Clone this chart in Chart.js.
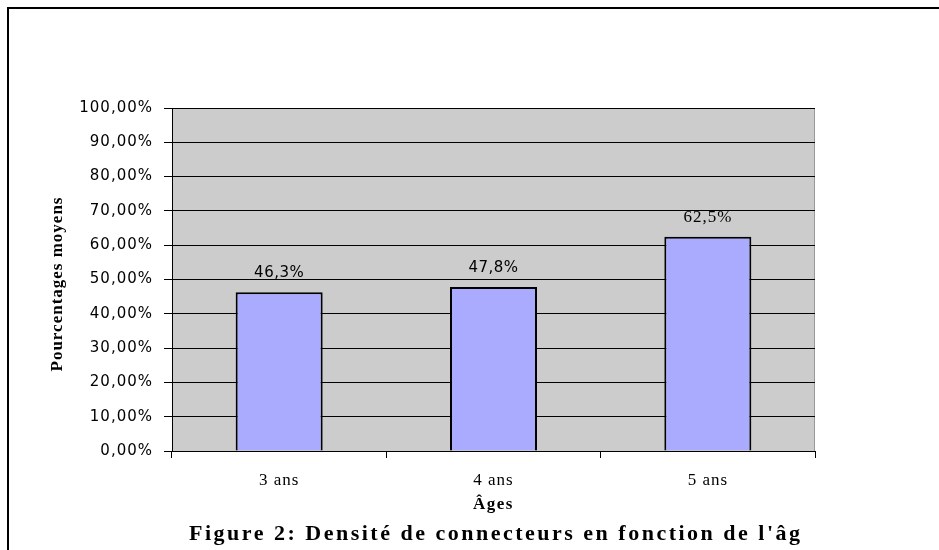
<!DOCTYPE html>
<html>
<head>
<meta charset="utf-8">
<script src="https://cdn.jsdelivr.net/npm/chart.js@4.4.1/dist/chart.umd.min.js"></script>
<style>
  html, body { margin: 0; padding: 0; background: #fff; }
  canvas { display: block; }
</style>
</head>
<body>
<canvas id="chart" width="939" height="550"></canvas>
<script>
// data
const ages = ["3 ans", "4 ans", "5 ans"];
const moyennes = [46.3, 47.8, 62.5];
const etiquettes = ["46,3%", "47,8%", "62,5%"];
const yTickLabels = ["0,00%", "10,00%", "20,00%", "30,00%", "40,00%", "50,00%",
                     "60,00%", "70,00%", "80,00%", "90,00%", "100,00%"];
const yTitle = "Pourcentages moyens";
const xTitle = "Âges";
const caption = "Figure 2: Densité de connecteurs en fonction de l'âge";

const serif = "'Liberation Serif', 'Times New Roman', serif";
const sans = "'DejaVu Sans', Verdana, sans-serif";

const frame = {
    id: "frame",
    beforeDraw(chart) {
        const { ctx, chartArea: a } = chart;
        ctx.save();
        ctx.fillStyle = "#fff";
        ctx.fillRect(0, 0, chart.width, chart.height);
        ctx.fillStyle = "#cccccc";
        ctx.fillRect(a.left, a.top, a.right - a.left, a.bottom - a.top);
        ctx.strokeStyle = "#999";
        ctx.lineWidth = 1;
        ctx.beginPath();
        ctx.moveTo(a.right - 0.5, a.top);
        ctx.lineTo(a.right - 0.5, a.bottom);
        ctx.stroke();
        // outer frame, open on the right and bottom
        ctx.strokeStyle = "#000";
        ctx.lineWidth = 2;
        ctx.strokeRect(8, 8, chart.width + 20, chart.height + 20);
        ctx.restore();
        ctx.letterSpacing = "1px";
    },
    afterDatasetsDraw(chart) {
        const { ctx } = chart;
        const bars = chart.getDatasetMeta(0).data;
        ctx.save();
        ctx.fillStyle = "#000";
        ctx.textAlign = "center";
        ctx.textBaseline = "alphabetic";
        bars.forEach((bar, i) => {
            // the last label is rendered with a serif face in the original
            if (i === bars.length - 1) {
                ctx.font = "17px " + serif;
                ctx.letterSpacing = "1px";
            } else {
                ctx.font = "15px " + sans;
                ctx.letterSpacing = "0.5px";
            }
            ctx.fillText(etiquettes[i], bar.x, bar.y - 15);
        });
        ctx.restore();
    },
    afterDraw(chart) {
        const { ctx, chartArea: a } = chart;
        ctx.save();
        ctx.fillStyle = "#000";

        ctx.font = "bold 17px " + serif;
        ctx.letterSpacing = "1px";
        ctx.textAlign = "center";
        ctx.textBaseline = "middle";
        ctx.save();
        ctx.translate(57.5, 284);
        ctx.rotate(-Math.PI / 2);
        ctx.fillText(yTitle, 0, 0);
        ctx.restore();

        ctx.letterSpacing = "1.5px";
        ctx.textBaseline = "alphabetic";
        ctx.fillText(xTitle, (a.left + a.right) / 2, 509);

        ctx.beginPath();
        ctx.rect(0, 0, 800, chart.height);
        ctx.clip();
        ctx.font = "bold 22px " + serif;
        ctx.letterSpacing = "2.5px";
        ctx.textAlign = "left";
        ctx.fillText(caption, 189, 540);
        ctx.restore();
        ctx.letterSpacing = "0px";
    },
};

new Chart(document.getElementById("chart"), {
    type: "bar",
    data: {
        labels: ages,
        datasets: [{
            data: moyennes,
            backgroundColor: "#aaaaff",
            borderColor: "#000",
            borderWidth: 2,
            barPercentage: 0.406,
            categoryPercentage: 1,
        }],
    },
    options: {
        responsive: false,
        animation: false,
        layout: { padding: { left: 0, top: 108, right: 124, bottom: 0 } },
        plugins: {
            legend: { display: false },
            tooltip: { enabled: false },
        },
        scales: {
            x: {
                afterFit: (scale) => { scale.height = 99; },
                grid: {
                    offset: true,
                    drawOnChartArea: false,
                    color: "#000",
                    tickLength: 7,
                },
                border: { color: "#000", width: 1 },
                ticks: {
                    color: "#000",
                    padding: 12,
                    font: { family: serif, size: 17 },
                },
            },
            y: {
                min: 0,
                max: 100,
                afterFit: (scale) => { scale.width = 172; },
                grid: { color: "#000", tickLength: 8 },
                border: { color: "#000", width: 1 },
                ticks: {
                    stepSize: 10,
                    color: "#000",
                    padding: 11,
                    font: { family: sans, size: 15 },
                    callback: (v, i) => yTickLabels[i],
                },
            },
        },
    },
    plugins: [frame],
});
</script>
</body>
</html>
